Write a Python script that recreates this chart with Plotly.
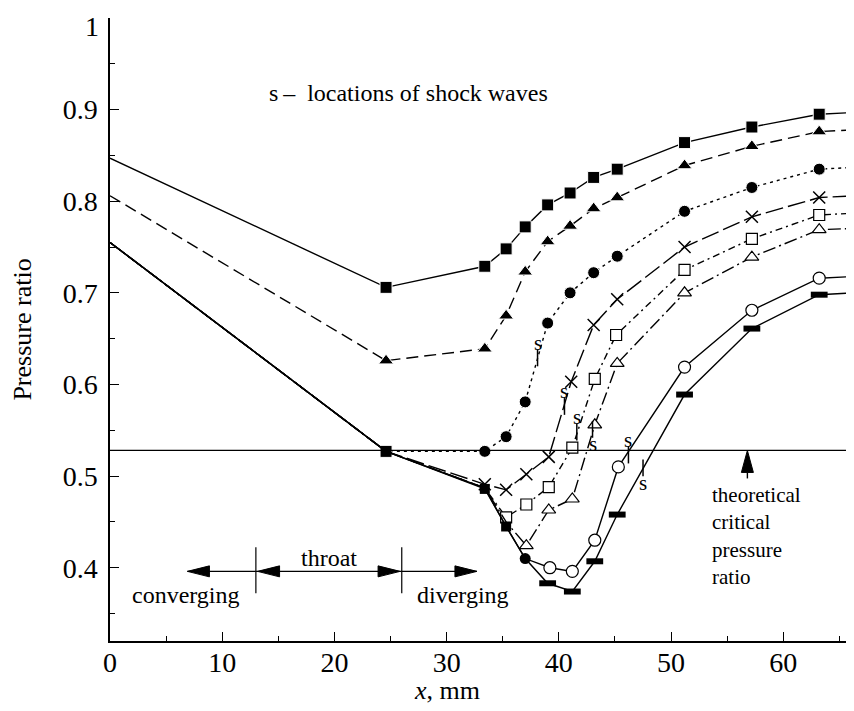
import plotly.graph_objects as go

# ---------------- data ----------------
# series 1: filled squares, solid
x1 = [0, 24.6, 33.4, 35.3, 37.0, 39.0, 41.0, 43.1, 45.2, 51.2, 57.2, 63.2, 68.0]
y1 = [0.847, 0.706, 0.729, 0.748, 0.772, 0.796, 0.809, 0.826, 0.835, 0.864, 0.881, 0.895, 0.898]
# series 2: filled triangles, dashed
x2 = [0, 24.6, 33.4, 35.3, 37.0, 39.0, 41.0, 43.1, 45.2, 51.2, 57.2, 63.2, 68.0]
y2 = [0.806, 0.626, 0.639, 0.675, 0.723, 0.756, 0.773, 0.792, 0.804, 0.839, 0.860, 0.876, 0.879]
# series 3: filled circles, dotted
x3 = [0, 24.6, 33.4, 35.3, 37.0, 39.0, 41.0, 43.1, 45.2, 51.2, 57.2, 63.2, 68.0]
y3 = [0.755, 0.527, 0.527, 0.543, 0.581, 0.667, 0.700, 0.722, 0.740, 0.789, 0.815, 0.835, 0.838]
# series 4: crosses, long dash
x4 = [0, 24.6, 33.4, 35.3, 37.1, 39.1, 41.1, 43.1, 45.2, 51.2, 57.2, 63.2, 68.0]
y4 = [0.755, 0.527, 0.491, 0.485, 0.502, 0.521, 0.603, 0.665, 0.693, 0.750, 0.783, 0.804, 0.807]
# series 5: open squares, dash-dot
x5 = [0, 24.6, 33.4, 35.3, 37.1, 39.1, 41.2, 43.2, 45.1, 51.2, 57.2, 63.2, 68.0]
y5 = [0.755, 0.527, 0.487, 0.455, 0.469, 0.488, 0.531, 0.606, 0.654, 0.725, 0.759, 0.785, 0.788]
# series 6: open triangles, long dash-dot
x6 = [0, 24.6, 33.4, 35.3, 37.1, 39.1, 41.2, 43.2, 45.2, 51.2, 57.2, 63.2, 68.0]
y6 = [0.755, 0.527, 0.487, 0.450, 0.424, 0.463, 0.475, 0.556, 0.623, 0.700, 0.739, 0.769, 0.771]
# series 7: open circles, solid
x7 = [0, 24.6, 33.4, 35.3, 37.0, 39.2, 41.2, 43.2, 45.3, 51.2, 57.2, 63.2, 68.0]
y7 = [0.755, 0.527, 0.487, 0.445, 0.410, 0.400, 0.396, 0.430, 0.510, 0.619, 0.681, 0.716, 0.719]
# series 8: filled bars, solid
x8 = [0, 24.6, 33.4, 35.3, 37.0, 39.0, 41.2, 43.2, 45.2, 51.2, 57.2, 63.2, 68.0]
y8 = [0.755, 0.527, 0.486, 0.445, 0.410, 0.383, 0.374, 0.407, 0.458, 0.589, 0.661, 0.698, 0.701]

# shock wave locations
shock_x = [38.1, 40.5, 41.6, 43.0, 46.2, 47.5]
shock_y = [0.629, 0.576, 0.548, 0.551, 0.523, 0.509]
shock_side = ["above", "above", "above", "below", "above", "below"]

critical_ratio = 0.528

x_ticks = [0, 10, 20, 30, 40, 50, 60]
y_ticks = [0.4, 0.5, 0.6, 0.7, 0.8, 0.9, 1.0]
y_tick_labels = ["0.4", "0.5", "0.6", "0.7", "0.8", "0.9", ""]
y_top_label = "1"

# nozzle regions (mm) and arrow level
conv_tip = 6.9
throat_start = 13.0
throat_end = 26.0
div_tip = 32.7
region_arrow_y = 0.396
crit_arrow_x = 56.8

FONT = "Liberation Serif"
X_MAX = 66.3
Y_MIN, Y_MAX = 0.32, 1.0
PX_PER_MM = 744 / X_MAX
PX_PER_UNIT = 623 / (Y_MAX - Y_MIN)


def hidden_sizes(n, base, hidden):
    return [0 if (i in hidden or i == n - 1) else base for i in range(n)]


def opac(n, hidden):
    return [0 if (i in hidden or i == n - 1) else 1 for i in range(n)]


fig = go.Figure()

styles = [
    (x1, y1, "solid", dict(symbol="square", size=12, color="black"), {0}),
    (x2, y2, "12px,6px", dict(symbol="triangle-up", size=13, color="black"), {0}),
    (x3, y3, "3px,4px", dict(symbol=["circle", "square"] + ["circle"] * (len(x3) - 2), size=12, color="black"), {0}),
    (x4, y4, "18px,5px", dict(symbol="x-thin", size=12, color="black", line=dict(color="black", width=1.5)), {0, 1}),
    (x5, y5, "7px,4px,2px,4px", dict(symbol="square", size=11, color="white", line=dict(color="black", width=1.2)), {0, 1, 2}),
    (x6, y6, "13px,4px,2px,4px", dict(symbol="triangle-up", size=12, color="white", line=dict(color="black", width=1.2)), {0, 1, 2, 3}),
    (x7, y7, "solid", dict(symbol="circle", size=12, color="white", line=dict(color="black", width=1.2)), {0, 1, 2, 3, 4}),
]

for xs, ys, dash, mk, hidden in styles:
    n = len(xs)
    m = dict(mk)
    m["size"] = hidden_sizes(n, mk["size"], hidden)
    m["opacity"] = opac(n, hidden)
    fig.add_trace(go.Scatter(x=xs, y=ys, mode="lines+markers",
                             line=dict(color="black", width=1.4, dash=dash),
                             marker=m, cliponaxis=True))

# series 8 with bar-shaped markers (first points drawn as solid blobs)
n8 = len(x8)
sym8 = ["line-ew"] * n8
lw8 = [6] * n8
sz8 = [12] * n8
for i in (1, 2, 3):
    sym8[i] = "square"; lw8[i] = 0; sz8[i] = 10
sym8[4] = "circle"; lw8[4] = 0; sz8[4] = 11
sz8[0] = 0; sz8[-1] = 0
fig.add_trace(go.Scatter(x=x8, y=y8, mode="lines+markers",
                         line=dict(color="black", width=1.4),
                         marker=dict(symbol=sym8, size=sz8, color="black",
                                     opacity=opac(n8, {0}),
                                     line=dict(color="black", width=lw8))))

# shock ticks
fig.add_trace(go.Scatter(x=shock_x, y=shock_y, mode="markers",
                         marker=dict(symbol="line-ns", size=12, color="black",
                                     line=dict(color="black", width=1.5))))

annotations = []
for sx, sy, side in zip(shock_x, shock_y, shock_side):
    annotations.append(dict(x=sx, y=sy, text="s", showarrow=False,
                            yshift=15 if side == "above" else -15,
                            font=dict(family=FONT, size=21, color="black")))

annotations += [
    dict(x=14.0, y=0.918, xanchor="left", text="s\u2009\u2013  locations of shock waves",
         showarrow=False, font=dict(family=FONT, size=24, color="black")),
    dict(x=(throat_start + throat_end) / 2, y=0.411, text="throat", showarrow=False,
         font=dict(family=FONT, size=24, color="black")),
    dict(x=6.8, y=0.370, text="converging", showarrow=False,
         font=dict(family=FONT, size=24, color="black")),
    dict(x=31.5, y=0.370, text="diverging", showarrow=False,
         font=dict(family=FONT, size=24, color="black")),
    dict(x=53.5, y=0.435, xanchor="left", yanchor="middle", align="left",
         text="theoretical<br>critical<br>pressure<br>ratio",
         showarrow=False, font=dict(family=FONT, size=21, color="black")),
    # x-axis title, centred under the labelled part of the axis
    dict(x=30, xref="x", y=0, yref="paper", yshift=-49, yanchor="middle",
         text="<i>x</i>, mm", showarrow=False,
         font=dict(family=FONT, size=26, color="black")),
    # top y label, kept fully inside the page
    dict(x=0, xref="paper", xanchor="right", xshift=-9, y=1, yref="paper", yanchor="top", yshift=9,
         text=y_top_label, showarrow=False, font=dict(family=FONT, size=28, color="black")),
]

shapes = [dict(type="line", xref="paper", x0=0, x1=1, yref="y", y0=critical_ratio, y1=critical_ratio,
               line=dict(color="black", width=1.2))]

head_len_x = 22 / PX_PER_MM
head_hw_y = 5.5 / PX_PER_UNIT


def hhead(tip, base_dir):
    base = tip + base_dir * head_len_x
    return dict(type="path", xref="x", yref="y",
                path=f"M{tip},{region_arrow_y} L{base},{region_arrow_y + head_hw_y} L{base},{region_arrow_y - head_hw_y} Z",
                fillcolor="black", line=dict(color="black", width=1))


# horizontal stems
for a, b in [(conv_tip, throat_start), (throat_start, throat_end), (throat_end, div_tip)]:
    shapes.append(dict(type="line", xref="x", yref="y", x0=a, x1=b, y0=region_arrow_y, y1=region_arrow_y,
                       line=dict(color="black", width=1.4)))
shapes += [hhead(conv_tip, 1), hhead(throat_start + 0.15, 1), hhead(throat_end - 0.15, -1), hhead(div_tip, -1)]
# region boundary bars
bar_half = 22 / PX_PER_UNIT
for bx in (throat_start, throat_end):
    shapes.append(dict(type="line", xref="x", yref="y", x0=bx, x1=bx,
                       y0=region_arrow_y - bar_half, y1=region_arrow_y + bar_half + 2 / PX_PER_UNIT,
                       line=dict(color="black", width=1.2)))

# vertical arrow to critical line
vh_len = 22 / PX_PER_UNIT
vh_hw = 6 / PX_PER_MM
shapes.append(dict(type="line", xref="x", yref="y", x0=crit_arrow_x, x1=crit_arrow_x,
                   y0=critical_ratio - 28 / PX_PER_UNIT, y1=critical_ratio - vh_len,
                   line=dict(color="black", width=1.4)))
shapes.append(dict(type="path", xref="x", yref="y",
                   path=f"M{crit_arrow_x},{critical_ratio} L{crit_arrow_x - vh_hw},{critical_ratio - vh_len} "
                        f"L{crit_arrow_x + vh_hw},{critical_ratio - vh_len} Z",
                   fillcolor="black", line=dict(color="black", width=1)))

# the page body adds an 8 px offset, so the figure is 8 px smaller and shifted
fig.update_layout(
    width=846, height=703,
    margin=dict(l=102, r=0, t=10, b=70),
    paper_bgcolor="white", plot_bgcolor="white",
    showlegend=False,
    font=dict(family=FONT, color="black"),
    annotations=annotations,
    shapes=shapes,
    xaxis=dict(range=[0, X_MAX], tickvals=x_ticks, ticks="inside", ticklen=9, tickwidth=1.2,
               tickcolor="black", showline=True, linecolor="black", linewidth=1.5,
               showgrid=False, zeroline=False, automargin=False, ticklabelstandoff=-4,
               minor=dict(ticks="inside", ticklen=5, tickwidth=1, tickcolor="black",
                          tickmode="linear", tick0=0, dtick=5),
               tickfont=dict(family=FONT, size=28, color="black")),
    yaxis=dict(range=[Y_MIN, Y_MAX], tickvals=y_ticks, ticktext=y_tick_labels,
               ticks="inside", ticklen=9, tickwidth=1.2, tickcolor="black",
               showline=True, linecolor="black", linewidth=1.5,
               showgrid=False, zeroline=False, automargin=False, ticklabelstandoff=5,
               minor=dict(ticks="inside", ticklen=5, tickwidth=1, tickcolor="black",
                          tickmode="linear", tick0=0, dtick=0.05),
               tickfont=dict(family=FONT, size=28, color="black"),
               title=dict(text="Pressure ratio", font=dict(family=FONT, size=26, color="black"),
                          standoff=24)),
)

fig.write_html("out.html")
